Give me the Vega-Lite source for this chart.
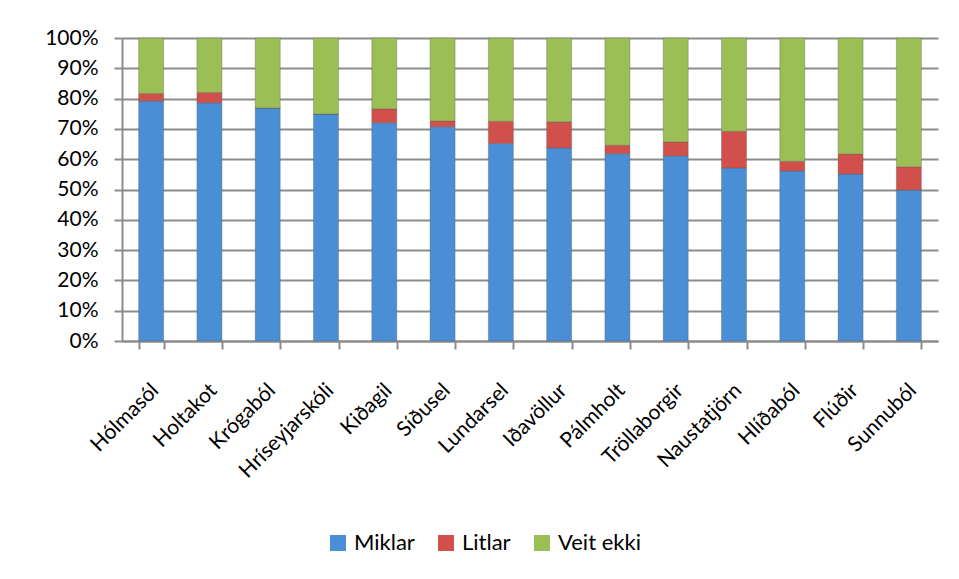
{
  "$schema": "https://vega.github.io/schema/vega-lite/v6.json",
  "width": 816,
  "height": 303,
  "autosize": {"type": "none"},
  "padding": {"left": 122, "top": 38, "right": 21, "bottom": 238},
  "background": "white",
  "config": {
    "font": "Lato",
    "view": {"stroke": null},
    "axis": {"labelFont": "Lato", "labelColor": "#000000"}
  },
  "data": {
    "values": [
      {"skoli": "Hólmasól", "svar": "Miklar", "o": 1, "p": 79.2},
      {"skoli": "Hólmasól", "svar": "Litlar", "o": 2, "p": 2.5},
      {"skoli": "Hólmasól", "svar": "Veit ekki", "o": 3, "p": 18.3},
      {"skoli": "Holtakot", "svar": "Miklar", "o": 1, "p": 78.6},
      {"skoli": "Holtakot", "svar": "Litlar", "o": 2, "p": 3.4},
      {"skoli": "Holtakot", "svar": "Veit ekki", "o": 3, "p": 18.0},
      {"skoli": "Krógaból", "svar": "Miklar", "o": 1, "p": 76.9},
      {"skoli": "Krógaból", "svar": "Litlar", "o": 2, "p": 0},
      {"skoli": "Krógaból", "svar": "Veit ekki", "o": 3, "p": 23.1},
      {"skoli": "Hríseyjarskóli", "svar": "Miklar", "o": 1, "p": 74.9},
      {"skoli": "Hríseyjarskóli", "svar": "Litlar", "o": 2, "p": 0},
      {"skoli": "Hríseyjarskóli", "svar": "Veit ekki", "o": 3, "p": 25.1},
      {"skoli": "Kiðagil", "svar": "Miklar", "o": 1, "p": 72.0},
      {"skoli": "Kiðagil", "svar": "Litlar", "o": 2, "p": 4.6},
      {"skoli": "Kiðagil", "svar": "Veit ekki", "o": 3, "p": 23.4},
      {"skoli": "Síðusel", "svar": "Miklar", "o": 1, "p": 70.7},
      {"skoli": "Síðusel", "svar": "Litlar", "o": 2, "p": 1.9},
      {"skoli": "Síðusel", "svar": "Veit ekki", "o": 3, "p": 27.4},
      {"skoli": "Lundarsel", "svar": "Miklar", "o": 1, "p": 65.2},
      {"skoli": "Lundarsel", "svar": "Litlar", "o": 2, "p": 7.3},
      {"skoli": "Lundarsel", "svar": "Veit ekki", "o": 3, "p": 27.5},
      {"skoli": "Iðavöllur", "svar": "Miklar", "o": 1, "p": 63.7},
      {"skoli": "Iðavöllur", "svar": "Litlar", "o": 2, "p": 8.6},
      {"skoli": "Iðavöllur", "svar": "Veit ekki", "o": 3, "p": 27.7},
      {"skoli": "Pálmholt", "svar": "Miklar", "o": 1, "p": 61.8},
      {"skoli": "Pálmholt", "svar": "Litlar", "o": 2, "p": 2.8},
      {"skoli": "Pálmholt", "svar": "Veit ekki", "o": 3, "p": 35.4},
      {"skoli": "Tröllaborgir", "svar": "Miklar", "o": 1, "p": 61.1},
      {"skoli": "Tröllaborgir", "svar": "Litlar", "o": 2, "p": 4.6},
      {"skoli": "Tröllaborgir", "svar": "Veit ekki", "o": 3, "p": 34.3},
      {"skoli": "Naustatjörn", "svar": "Miklar", "o": 1, "p": 57.1},
      {"skoli": "Naustatjörn", "svar": "Litlar", "o": 2, "p": 12.1},
      {"skoli": "Naustatjörn", "svar": "Veit ekki", "o": 3, "p": 30.8},
      {"skoli": "Hlíðaból", "svar": "Miklar", "o": 1, "p": 56.1},
      {"skoli": "Hlíðaból", "svar": "Litlar", "o": 2, "p": 3.2},
      {"skoli": "Hlíðaból", "svar": "Veit ekki", "o": 3, "p": 40.7},
      {"skoli": "Flúðir", "svar": "Miklar", "o": 1, "p": 55.1},
      {"skoli": "Flúðir", "svar": "Litlar", "o": 2, "p": 6.6},
      {"skoli": "Flúðir", "svar": "Veit ekki", "o": 3, "p": 38.3},
      {"skoli": "Sunnuból", "svar": "Miklar", "o": 1, "p": 49.8},
      {"skoli": "Sunnuból", "svar": "Litlar", "o": 2, "p": 7.7},
      {"skoli": "Sunnuból", "svar": "Veit ekki", "o": 3, "p": 42.5}
    ]
  },
  "mark": {"type": "bar", "width": 25, "stroke": "#5a5a5a", "strokeOpacity": 0.35, "strokeWidth": 1},
  "encoding": {
    "x": {
      "field": "skoli",
      "type": "nominal",
      "sort": null,
      "scale": {"paddingInner": 0.57, "paddingOuter": 0.285},
      "axis": {
        "title": null,
        "labelAngle": -45,
        "labelAlign": "right",
        "labelBaseline": "middle",
        "labelFontSize": 21,
        "labelPadding": 38,
        "labelOffset": 4,
        "tickBand": "extent",
        "tickSize": 8,
        "tickColor": "#8c8c8c",
        "tickWidth": 2,
        "domainColor": "#8c8c8c",
        "domainWidth": 2,
        "grid": false
      }
    },
    "y": {
      "field": "p",
      "type": "quantitative",
      "stack": "normalize",
      "scale": {"domain": [0, 1]},
      "axis": {
        "title": null,
        "format": ".0%",
        "values": [0, 0.1, 0.2, 0.3, 0.4, 0.5, 0.6, 0.7, 0.8, 0.9, 1],
        "labelFontSize": 21,
        "labelPadding": 16,
        "tickSize": 8,
        "tickColor": "#8c8c8c",
        "tickWidth": 2,
        "domainColor": "#8c8c8c",
        "domainWidth": 2,
        "grid": true,
        "gridColor": "#8c8c8c",
        "gridWidth": 2
      }
    },
    "color": {
      "field": "svar",
      "type": "nominal",
      "scale": {
        "domain": ["Miklar", "Litlar", "Veit ekki"],
        "range": ["#4a8fd6", "#d2504c", "#9cbf55"]
      },
      "legend": {
        "title": null,
        "orient": "none",
        "direction": "horizontal",
        "legendX": 205,
        "legendY": 494,
        "symbolType": "square",
        "symbolSize": 256,
        "symbolStrokeWidth": 0,
        "labelFontSize": 22,
        "labelOffset": 5,
        "labelColor": "#000000",
        "columnPadding": 20
      }
    },
    "order": {"field": "o", "type": "quantitative"}
  }
}
